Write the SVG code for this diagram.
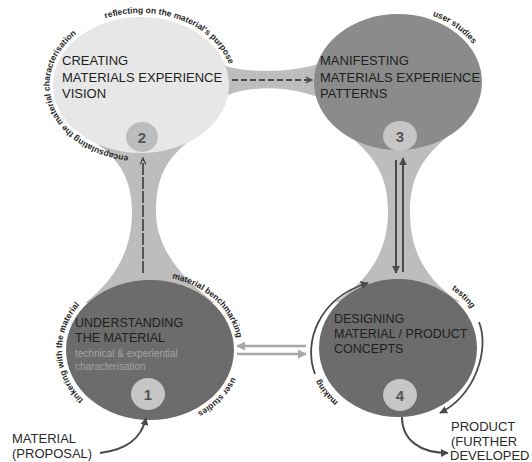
<svg xmlns="http://www.w3.org/2000/svg" width="532" height="462" viewBox="0 0 532 462">
<style>
.lbl{font-family:"Liberation Sans",Arial,sans-serif;fill:#1e1e1e}
.big{font-size:13px}
.mid{font-size:12.5px}
.sub{font-family:"Liberation Sans",Arial,sans-serif;font-size:10px;fill:#a3a3a3}
.num{font-family:"Liberation Sans",Arial,sans-serif;font-size:15px;font-weight:bold;fill:#555;text-anchor:middle}
.curv{font-family:"Liberation Sans",Arial,sans-serif;font-size:8.5px;font-weight:bold;fill:#262626}
.funnel{fill:#bdbdbd}
.small{fill:#c6c6c6}
.dash{fill:none;stroke:#4a4a4a;stroke-width:1.8}
.solid{fill:none;stroke:#4a4a4a;stroke-width:2}
.light{fill:none;stroke:#a8a8a8;stroke-width:2.5}
.outer{font-family:"Liberation Sans",Arial,sans-serif;font-size:13px;fill:#2a2a2a}
</style>
<defs>
<marker id="openDark" viewBox="0 0 10 10" refX="9" refY="5" markerWidth="8" markerHeight="8" markerUnits="userSpaceOnUse" orient="auto"><path d="M1,1.5 L9,5 L1,8.5" fill="none" stroke="#4a4a4a" stroke-width="1.6"/></marker>
<marker id="fillDark" viewBox="0 0 10 10" refX="9" refY="5" markerWidth="8" markerHeight="8" markerUnits="userSpaceOnUse" orient="auto"><path d="M0,0 L10,5 L0,10 Z" fill="#4a4a4a"/></marker>
<marker id="fillLight" viewBox="0 0 10 10" refX="9" refY="5" markerWidth="9" markerHeight="9" markerUnits="userSpaceOnUse" orient="auto"><path d="M0,0 L10,5 L0,10 Z" fill="#a8a8a8"/></marker>
<path id="t2a" d="M135,156.7 A92 72 0 0 1 82,30"/>
<path id="t2b" d="M95,22.6 A92 72 0 0 1 232.1,75"/>
<path id="t3a" d="M425.2,13.5 A88 72 0 0 1 477.1,50.5"/>
<path id="t1a" d="M165.3,277.1 A88 74 0 0 1 237.8,344.8"/>
<path id="t1b" d="M235.4,367.9 A88 74 0 0 1 188.5,416.5"/>
<path id="t1c" d="M84,400.5 A87 75 0 0 1 80.2,304.4"/>
<path id="t4a" d="M447.4,286.6 A86 75 0 0 1 473.9,312.8"/>
<path id="t4b" d="M345,407.1 A86 75 0 0 1 316.2,371.2"/>
</defs>

<g id="connectors">
<path class="funnel" d="M95,142 C120,160 132,180 132,212 C132,250 115,280 85,303 L215,303 C184,280 156,250 156,212 C156,180 165,160 188,142 Z"/>
<path class="funnel" d="M352,138 C378,160 388,180 388,212 C388,250 370,280 335,302 L460,302 C425,280 410,250 410,212 C410,180 420,160 446,138 Z"/>
<path class="funnel" d="M215,62 C240,74 290,74 325,62 L325,100 C290,84 240,84 215,102 Z"/>
</g>

<g id="node2">
<ellipse cx="141" cy="85" rx="88" ry="68" fill="#e7e7e7"/>
<ellipse cx="142" cy="137" rx="16" ry="15" fill="#bdbdbd"/>
<text class="num" x="142" y="142.5">2</text>
<text class="lbl big" x="62" y="65">CREATING</text>
<text class="lbl big" x="62" y="82">MATERIALS EXPERIENCE</text>
<text class="lbl big" x="62" y="98">VISION</text>
</g>

<g id="node3">
<ellipse cx="398" cy="82" rx="84" ry="68" fill="#8b8b8b"/>
<ellipse cx="400" cy="136" rx="17" ry="15" class="small"/>
<text class="num" x="400" y="141.5">3</text>
<text class="lbl big" x="320" y="65">MANIFESTING</text>
<text class="lbl big" x="320" y="82">MATERIALS EXPERIENCE</text>
<text class="lbl big" x="320" y="98">PATTERNS</text>
</g>

<g id="node1">
<ellipse cx="150" cy="350" rx="84" ry="70" fill="#6c6c6c"/>
<ellipse cx="148" cy="394" rx="17" ry="16" class="small"/>
<text class="num" x="148" y="399.5">1</text>
<text class="lbl mid" x="75" y="327">UNDERSTANDING</text>
<text class="lbl mid" x="75" y="342">THE MATERIAL</text>
<text class="sub" x="75" y="357">technical &amp; experiential</text>
<text class="sub" x="75" y="370">characterisation</text>
</g>

<g id="node4">
<ellipse cx="398" cy="348" rx="79" ry="69" fill="#6c6c6c"/>
<ellipse cx="400" cy="395" rx="17" ry="16" class="small"/>
<text class="num" x="400" y="400.5">4</text>
<text class="lbl mid" x="334" y="323">DESIGNING</text>
<text class="lbl mid" x="334" y="338">MATERIAL / PRODUCT</text>
<text class="lbl mid" x="334" y="353">CONCEPTS</text>
</g>

<g id="arrows">
<line class="dash" x1="232" y1="80" x2="312" y2="80" stroke-dasharray="6 3" marker-end="url(#openDark)"/>
<line class="dash" x1="143" y1="273" x2="143" y2="158" stroke-dasharray="12 2" marker-end="url(#openDark)"/>
<line class="solid" x1="396" y1="160" x2="396" y2="273" marker-end="url(#fillDark)"/>
<line class="solid" x1="403" y1="272" x2="403" y2="158" marker-end="url(#fillDark)"/>
<line class="light" x1="306" y1="346" x2="237" y2="346" marker-end="url(#fillLight)"/>
<line class="light" x1="237" y1="354" x2="306" y2="354" marker-end="url(#fillLight)"/>
<path class="solid" d="M100,453 C125,450 141,440 146,418" marker-end="url(#fillDark)"/>
<path class="solid" d="M402,417 C402,440 420,453 448,453" marker-end="url(#fillDark)"/>
<path class="dash" d="M315,374 C303,343 318,298 368,283" marker-end="url(#fillDark)"/>
<path class="dash" d="M479,322 C490,350 475,395 440,413" marker-end="url(#fillDark)"/>
</g>

<g id="curved-labels">
<text class="curv" font-size="8.2"><textPath href="#t2a" startOffset="50%" text-anchor="middle">encapsulating the material characterisation</textPath></text>
<text class="curv"><textPath href="#t2b" startOffset="50%" text-anchor="middle">reflecting on the material's purpose</textPath></text>
<text class="curv"><textPath href="#t3a" startOffset="50%" text-anchor="middle">user studies</textPath></text>
<text class="curv"><textPath href="#t1a" startOffset="50%" text-anchor="middle">material benchmarking</textPath></text>
<text class="curv"><textPath href="#t1b" startOffset="50%" text-anchor="middle">user studies</textPath></text>
<text class="curv"><textPath href="#t1c" startOffset="50%" text-anchor="middle">tinkering with the material</textPath></text>
<text class="curv"><textPath href="#t4a" startOffset="50%" text-anchor="middle">testing</textPath></text>
<text class="curv"><textPath href="#t4b" startOffset="50%" text-anchor="middle">making</textPath></text>
</g>

<g id="inputs">
<text class="outer" x="12" y="443">MATERIAL</text>
<text class="outer" x="12" y="458">(PROPOSAL)</text>
<text class="outer" x="451" y="431">PRODUCT</text>
<text class="outer" x="451" y="446">(FURTHER</text>
<text class="outer" x="450" y="460" font-size="12.2">DEVELOPED</text>
</g>
</svg>
